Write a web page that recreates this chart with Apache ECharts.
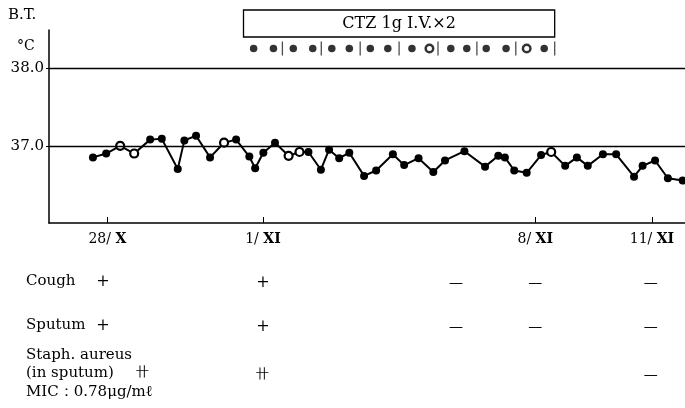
<!DOCTYPE html>
<html><head><meta charset="utf-8">
<script src="https://cdn.jsdelivr.net/npm/echarts@6/dist/echarts.min.js"></script>
<style>html,body{margin:0;padding:0;background:#fff}#c{width:685px;height:408px}</style>
</head><body><div id="c"></div>
<script>
// Body temperature: day offset from 28/X and reading in °C
const tempDays = [-0.37,-0.03,0.33,0.69,1.10,1.40,1.81,1.98,2.28,2.64,3.00,3.31,3.65,3.80,4.01,4.31,
  4.66,4.94,5.17,5.49,5.70,5.96,6.22,6.60,6.91,7.34,7.63,8.00,8.38,8.68,9.18,9.71,10.05,10.22,
  10.46,10.78,11.15,11.41,11.77,12.07,12.35,12.74,13.08,13.54,13.76,14.08,14.41,14.79];
const temps = [36.85,36.90,37.00,36.90,37.08,37.09,36.70,37.07,37.13,36.85,37.04,37.08,36.86,36.71,36.91,37.04,
  36.87,36.92,36.92,36.69,36.95,36.84,36.91,36.61,36.68,36.89,36.75,36.84,36.66,36.81,36.93,36.73,36.87,36.85,
  36.68,36.65,36.88,36.92,36.74,36.85,36.74,36.89,36.89,36.60,36.74,36.81,36.58,36.55];
const openTempIdx = [2,3,10,16,17,37];
// CTZ doses (two per day) and day separators
const doseDays = [3.76,4.27,4.78,5.28,5.77,6.22,6.76,7.21,7.83,8.28,8.83,9.24,9.74,10.25,10.78,11.23];
const openDoseIdx = [9,14];
const dayBounds = [4.5,5.5,6.5,7.5,8.5,9.5,10.5,11.5];
const doseLevel = 38.26;
const treatStart = 3.5, treatEnd = 11.5;
const treatLabel = 'CTZ 1g I.V.×2';
// axes
const tickDays = [0,4,11,14];
const tickLabels = ['28/ X','1/ XI','8/ XI','11/ XI'];
const yTicks = [37,38];
// clinical table
const coughMarks = [['+',4],['—',8.96],['—',11],['—',13.97]];
const sputumMarks = [['+',4],['—',8.96],['—',11],['—',13.97]];
const staphMarks = [['卄',4],['—',13.97]];

const FONT = 'DejaVu Serif';
const chart = echarts.init(document.getElementById('c'), null, {renderer:'canvas'});

const tempData = tempDays.map((d,i)=>{
  const o = {value:[d,temps[i]]};
  if (openTempIdx.includes(i)) o.itemStyle = {color:'#fff', borderColor:'#000', borderWidth:2.2};
  return o;
});
const doseData = doseDays.map((d,i)=>{
  const o = {value:[d,doseLevel]};
  if (openDoseIdx.includes(i)) o.itemStyle = {color:'#fff', borderColor:'#000', borderWidth:2.5};
  return o;
});

chart.setOption({
  animation:false,
  grid:{left:49,right:0,top:30,bottom:185},
  xAxis:{type:'value',min:-1.5,max:14.85,
    axisLine:{show:true,onZero:false,lineStyle:{color:'#000',width:1.5}},
    splitLine:{show:false},
    axisTick:{show:true,inside:true,length:6,customValues:tickDays,lineStyle:{color:'#000',width:1}},
    axisLabel:{customValues:tickDays,margin:9,color:'#000',
      formatter:v=>{const i=tickDays.indexOf(v); if(i<0) return ''; const p=tickLabels[i].split(' ');
        return '{n|'+p[0]+' }{r|'+p[1]+'}';},
      rich:{n:{fontFamily:FONT,fontSize:14,color:'#000'},r:{fontFamily:FONT,fontSize:14,fontWeight:'bold',color:'#000'}}}
  },
  yAxis:{type:'value',min:36,max:38.5,
    axisLine:{show:true,onZero:false,lineStyle:{color:'#000',width:1.5}},
    splitLine:{show:false},
    axisTick:{show:true,length:3,customValues:yTicks,lineStyle:{color:'#000'}},
    axisLabel:{customValues:yTicks,formatter:v=>v.toFixed(1),fontFamily:FONT,fontSize:15,color:'#000',margin:5}
  },
  series:[
    {type:'line',data:tempData,symbol:'circle',symbolSize:8,itemStyle:{color:'#000'},
     lineStyle:{color:'#000',width:2},z:3,
     markLine:{silent:true,symbol:'none',label:{show:false},lineStyle:{color:'#000',width:1.3,type:'solid'},
       data:yTicks.map(t=>({yAxis:t}))}},
    {type:'scatter',data:doseData,symbol:'circle',symbolSize:7.5,itemStyle:{color:'#000'}},
    {type:'scatter',data:dayBounds.map(d=>[d,doseLevel]),symbol:'rect',symbolSize:[1.3,14],itemStyle:{color:'#222'}}
  ]
});

const px = d => chart.convertToPixel({xAxisIndex:0}, d);
const g = [];
const txt = (x,y,s,opt={}) => g.push({type:'text',x,y,silent:true,style:Object.assign({text:s,fill:'#000',
  font:(opt.size||15)+'px "'+FONT+'"',textAlign:opt.align||'left',textVerticalAlign:'middle'},opt.style||{})});
// header labels
txt(8,15,'B.T.',{size:15});
txt(17,46,'°C',{size:14});
// treatment box
const bx0 = px(treatStart), bx1 = px(treatEnd);
g.push({type:'rect',silent:true,shape:{x:bx0,y:10,width:bx1-bx0,height:27},style:{fill:'none',stroke:'#000',lineWidth:1.3}});
txt((bx0+bx1)/2,24,treatLabel,{size:16,align:'center'});
// table
const rows = [
  {lines:['Cough'], y:281, inline:['+',103], marks:coughMarks},
  {lines:['Sputum'], y:325, inline:['+',103], marks:sputumMarks},
];
rows.forEach(r=>{
  txt(26,r.y,r.lines[0]);
  txt(r.inline[1],r.y+1,r.inline[0],{size:16,align:'center'});
  r.marks.forEach(([m,d])=>txt(px(d),r.y+2,m,{size:m==='+'?16:14,align:'center'}));
});
txt(26,355,'Staph. aureus');
txt(26,373,'(in sputum)');
txt(142,373,'卄',{size:13,align:'center'});
staphMarks.forEach(([m,d])=>txt(px(d),375,m,{size:m==='—'?14:13,align:'center'}));
txt(26,392,'MIC：0.78μg/mℓ');
chart.setOption({graphic:g});
</script>
</body></html>
